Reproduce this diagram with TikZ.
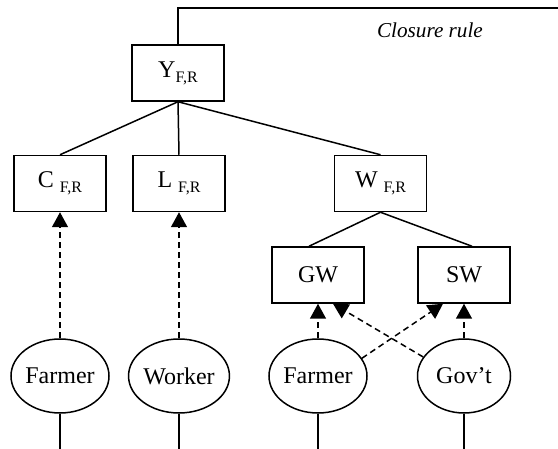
\documentclass[tikz,border=0pt]{standalone}
\usepackage{fontspec}
\setmainfont{Liberation Serif}
\usetikzlibrary{positioning, arrows.meta, shapes.geometric}

\newcommand{\lowsub}[1]{\raisebox{-0.45ex}{\fontsize{8}{8}\selectfont #1}}

\begin{document}
\begin{tikzpicture}[
  x=0.5pt, y=-0.5pt,
  line width=0.75pt,
  font=\fontsize{12}{14}\selectfont,
  box/.style={rectangle, draw, inner sep=0pt,
              minimum width=46pt, minimum height=28pt},
  agent/.style={ellipse, draw, inner sep=0pt,
                minimum width=46.5pt, minimum height=37pt},
  link/.style={-},
  arr/.style={-{Triangle[width=8pt,length=7.5pt]}, dash pattern=on 3pt off 2pt}
]
  \useasboundingbox (0,0) rectangle (558,449);

  % Accounts
  \node[box] (Y)  at (178,73)    {Y\lowsub{F,R}};
  \node[box] (C)  at (60,183.5)  {C \lowsub{F,R}};
  \node[box] (L)  at (179,183.5) {L \lowsub{F,R}};
  \node[box] (W)  at (380.5,183.5) {W \lowsub{F,R}};
  \node[box] (GW) at (318,275)   {GW};
  \node[box] (SW) at (464,275)   {SW};

  % Agents
  \node[agent] (far1) at (60,376)  {Farmer};
  \node[agent] (work) at (179,376) {Worker};
  \node[agent] (far2) at (318,376) {Farmer};
  \node[agent] (gov)  at (464,376) {Gov't};

  % Closure rule
  \coordinate (edge) at (558,8);
  \draw[link] (Y.north) |- (edge);
  \node[font=\fontsize{10.6}{12}\selectfont\itshape] (rule) at (430,30) {Closure rule};

  % Tree
  \draw[link] (Y.south) -- (C.north);
  \draw[link] (Y.south) -- (L.north);
  \draw[link] (Y.south) -- (W.north);
  \draw[link] (W.south) -- ([xshift=-4.5pt]GW.north);
  \draw[link] (W.south) -- ([xshift=4pt]SW.north);

  % Flows
  \draw[arr] (far1) -- (C);
  \draw[arr] (work) -- (L);
  \draw[arr] (far2) -- (GW);
  \draw[arr] (gov)  -- (SW);
  \draw[arr] (gov.155)  -- ([xshift=7.5pt]GW.south);
  \draw[arr] (far2.22)  -- ([xshift=-10.5pt]SW.south);

  % Tails
  \foreach \n in {far1, work, far2, gov}
    \draw[link] (\n.south) -- ++(0,40);
\end{tikzpicture}
\end{document}
